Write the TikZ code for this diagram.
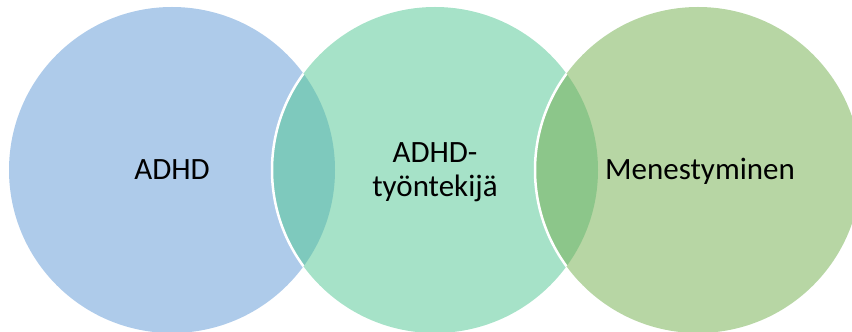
\documentclass[tikz,border=0pt]{standalone}
\usepackage{fontspec}
\setmainfont{Carlito}
\definecolor{cblue}{HTML}{AECBEA}
\definecolor{cmint}{HTML}{A6E2C8}
\definecolor{cgreen}{HTML}{B7D6A4}
\definecolor{cteal}{HTML}{7EC9BD}
\definecolor{cleaf}{HTML}{8CC68A}
\begin{document}
\begin{tikzpicture}[x=1pt,y=1pt,
  lbl/.style={font=\fontsize{31}{34}\selectfont, text=black, inner sep=0pt, align=center},
  rim/.style={draw=white, line width=2.5pt}]
\useasboundingbox (0,0) rectangle (852,332);
\clip (0,0) rectangle (852,332);
% the three sets
\coordinate (c1) at (172,162);
\coordinate (c2) at (435,162);
\coordinate (c3) at (698,162);
\fill[cblue] (c1) circle[radius=163];
\fill[cmint] (c2) circle[radius=163];
\fill[cgreen] (c3) circle[radius=163];
% overlaps
\begin{scope}
  \clip (c1) circle[radius=163];
  \fill[cteal] (c2) circle[radius=163];
  \draw[rim] (c2) circle[radius=163];
\end{scope}
\begin{scope}
  \clip (c2) circle[radius=163];
  \fill[cleaf] (c3) circle[radius=163];
  \draw[rim] (c3) circle[radius=163];
\end{scope}
% labels
\node[lbl, anchor=base] (t1) at (172,152) {ADHD};
\node[lbl] (t2) at (435,160) {ADHD-\\työntekijä};
\node[lbl, anchor=base] (t3) at (700,152) {Menestyminen};
\end{tikzpicture}
\end{document}
